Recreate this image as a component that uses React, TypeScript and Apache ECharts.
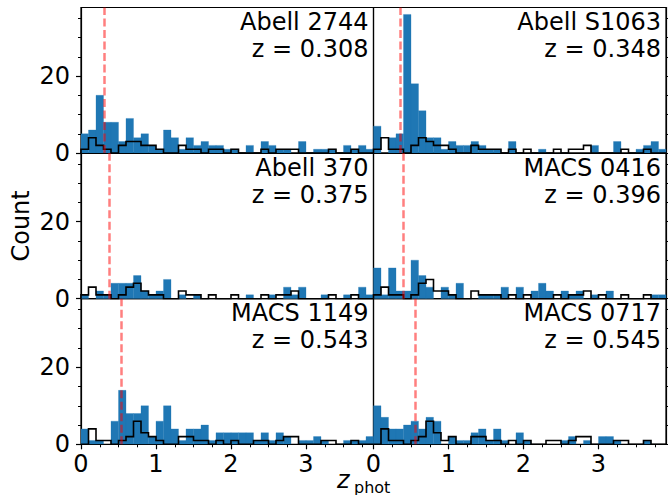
import React, { useEffect, useRef } from "react";
import * as echarts from "echarts";

// ---------- data ----------
const binWidth = 0.1;
const xMax = 3.9;
const yMax = 37.8;

const panelNames = ["Abell 2744", "Abell S1063", "Abell 370", "MACS 0416", "MACS 1149", "MACS 0717"];
const panelZ = [0.308, 0.348, 0.375, 0.396, 0.543, 0.545];

const blueA2744 = [5, 6, 15, 8, 8, 3, 9, 4, 5, 2, 1, 6, 4, 1, 4, 2, 3, 2, 2, 1, 1, 0, 2, 0, 3, 2, 1, 1, 0, 3, 0, 1, 1, 1, 0, 2, 1, 2, 1];
const stepA2744 = [1, 4, 2, 1, 0, 2, 3, 3, 2, 2, 1, 0, 0, 2, 1, 1, 0, 1, 1, 0, 1, 0, 0, 0, 1, 0, 1, 1, 1, 0, 0, 0, 0, 1, 0, 0, 1, 0, 0];

const blueS1063 = [7, 0, 4, 5, 36, 18, 11, 4, 4, 1, 3, 2, 2, 3, 2, 1, 1, 0, 3, 0, 0, 0, 1, 0, 0, 0, 0, 0, 0, 2, 0, 0, 3, 0, 0, 1, 2, 3, 1];
const stepS1063 = [1, 4, 1, 1, 0, 2, 4, 3, 2, 2, 1, 0, 0, 2, 1, 1, 1, 0, 1, 0, 1, 0, 0, 0, 1, 0, 1, 1, 2, 0, 0, 0, 0, 1, 0, 0, 1, 0, 0];

const blueA370 = [1, 0, 2, 1, 4, 4, 4, 6, 2, 1, 2, 5, 0, 1, 0, 1, 0, 0, 0, 0, 0, 0, 1, 0, 0, 1, 0, 3, 1, 3, 0, 0, 1, 0, 0, 1, 0, 3, 1];
const stepA370 = [1, 3, 1, 1, 0, 1, 3, 4, 2, 1, 1, 0, 0, 2, 1, 1, 0, 1, 0, 0, 1, 0, 0, 0, 1, 0, 1, 1, 2, 0, 0, 0, 0, 1, 0, 0, 1, 0, 0];

const blueM0416 = [8, 1, 8, 2, 2, 10, 6, 3, 0, 3, 1, 4, 0, 0, 1, 1, 1, 3, 0, 3, 0, 2, 4, 2, 0, 2, 1, 2, 0, 1, 0, 2, 0, 0, 0, 0, 0, 1, 1];
const stepM0416 = [1, 3, 1, 1, 0, 1, 4, 5, 2, 2, 1, 0, 0, 2, 1, 1, 1, 0, 1, 0, 1, 0, 0, 0, 1, 0, 1, 1, 2, 0, 1, 0, 0, 1, 0, 0, 1, 0, 0];

const blueM1149 = [4, 1, 1, 0, 6, 14, 8, 8, 10, 2, 6, 10, 4, 1, 4, 4, 5, 1, 3, 3, 3, 3, 3, 1, 3, 1, 3, 2, 0, 1, 1, 2, 1, 0, 0, 1, 1, 1, 2];
const stepM1149 = [0, 4, 1, 1, 0, 1, 2, 6, 3, 2, 1, 0, 0, 2, 2, 1, 1, 0, 1, 0, 1, 0, 0, 1, 1, 0, 1, 2, 2, 0, 0, 0, 1, 1, 0, 0, 1, 0, 0];

const blueM0717 = [10, 7, 4, 4, 5, 6, 4, 7, 6, 0, 2, 1, 1, 3, 4, 1, 4, 1, 0, 3, 1, 0, 0, 0, 0, 1, 2, 0, 1, 0, 2, 2, 1, 0, 0, 0, 1, 0, 0];
const stepM0717 = [0, 4, 1, 1, 0, 1, 2, 6, 3, 1, 2, 0, 0, 2, 2, 1, 1, 0, 1, 0, 1, 0, 0, 1, 1, 0, 1, 2, 2, 0, 0, 0, 1, 1, 0, 0, 1, 0, 0];

const blueHists = [blueA2744, blueS1063, blueA370, blueM0416, blueM1149, blueM0717];
const stepHists = [stepA2744, stepS1063, stepA370, stepM0416, stepM1149, stepM0717];

const xMajorTicks = [0, 1, 2, 3];
const xMinorTicks = [0.25, 0.5, 0.75, 1.25, 1.5, 1.75, 2.25, 2.5, 2.75, 3.25, 3.5, 3.75];
const yMajorTicks = [0, 20];
const yMinorTicks = [5, 10, 15, 25, 30, 35];

// ---------- layout ----------
const W = 668;
const H = 495;
const gridLeft = [81, 373.5];
const gridWidth = 292.5;
const gridTop = [7.5, 153.1, 298.7];
const gridHeight = 145.6;
const FONT = '"DejaVu Sans", "Liberation Sans", sans-serif';
const BLUE = "#1f77b4";

const edge = (k: number) => Math.round(k * binWidth * 1000) / 1000;

export default function App() {
  const ref = useRef<HTMLDivElement>(null);

  useEffect(() => {
    const chart = echarts.init(ref.current!, null, { renderer: "svg" });
    const grids: any[] = [];
    const xAxes: any[] = [];
    const yAxes: any[] = [];
    const series: any[] = [];
    const graphics: any[] = [];

    for (let i = 0; i < 6; i++) {
      const col = i % 2;
      const row = Math.floor(i / 2);
      const isBottom = row === 2;
      grids.push({
        left: gridLeft[col],
        top: gridTop[row],
        width: gridWidth,
        height: gridHeight,
        show: true,
        borderColor: "#000",
        borderWidth: 1.2,
        backgroundColor: "transparent",
      });

      const xa = xAxes.length;
      xAxes.push({
        type: "value",
        gridIndex: i,
        min: 0,
        max: xMax,
        position: "bottom",
        axisLine: { show: true, onZero: false, lineStyle: { color: "#000", width: 1.2 } },
        splitLine: { show: false },
        axisTick: { show: isBottom, customValues: xMajorTicks, length: 5, lineStyle: { color: "#000", width: 1.2 } },
        axisLabel: {
          show: isBottom,
          customValues: xMajorTicks,
          fontSize: 24,
          lineHeight: 20,
          fontFamily: FONT,
          color: "#000",
          margin: 10,
        },
      });
      if (isBottom) {
        xAxes.push({
          type: "value",
          gridIndex: i,
          min: 0,
          max: xMax,
          position: "bottom",
          axisLine: { show: false, onZero: false },
          splitLine: { show: false },
          axisTick: { show: true, customValues: xMinorTicks, length: 3, lineStyle: { color: "#000", width: 1 } },
          axisLabel: { show: false },
        });
      }

      const ya = yAxes.length;
      yAxes.push({
        type: "value",
        gridIndex: i,
        min: 0,
        max: yMax,
        position: col === 0 ? "left" : "right",
        axisLine: { show: true, onZero: false, lineStyle: { color: "#000", width: 1.2 } },
        splitLine: { show: false },
        axisTick: { show: true, customValues: yMajorTicks, length: 5, lineStyle: { color: "#000", width: 1.2 } },
        axisLabel: {
          show: col === 0,
          customValues: yMajorTicks,
          fontSize: 24,
          fontFamily: FONT,
          color: "#000",
          margin: 11,
        },
      });
      yAxes.push({
        type: "value",
        gridIndex: i,
        min: 0,
        max: yMax,
        position: col === 0 ? "left" : "right",
        axisLine: { show: false, onZero: false },
        splitLine: { show: false },
        axisTick: { show: true, customValues: yMinorTicks, length: 3, lineStyle: { color: "#000", width: 1 } },
        axisLabel: { show: false },
      });

      const blue = blueHists[i];
      series.push({
        type: "custom",
        xAxisIndex: xa,
        yAxisIndex: ya,
        clip: true,
        silent: true,
        z: 2,
        data: blue.map((c, k) => [edge(k), edge(k + 1), c]),
        encode: { x: [0, 1], y: 2 },
        renderItem: (params: any, api: any) => {
          const c = api.value(2);
          if (!c) return null;
          const p0 = api.coord([api.value(0), c]);
          const p1 = api.coord([api.value(1), 0]);
          return {
            type: "rect",
            shape: { x: p0[0], y: p0[1], width: p1[0] - p0[0], height: p1[1] - p0[1] },
            style: { fill: BLUE, stroke: BLUE, lineWidth: 0.3 },
          };
        },
      });

      const st = stepHists[i];
      const pts: number[][] = [[0, 0]];
      st.forEach((c, k) => {
        pts.push([edge(k), c]);
        pts.push([edge(k + 1), c]);
      });
      pts.push([edge(st.length), 0]);
      series.push({
        type: "line",
        xAxisIndex: xa,
        yAxisIndex: ya,
        data: pts,
        symbol: "none",
        silent: true,
        z: 3,
        lineStyle: { color: "#000", width: 1.6, join: "miter" },
        markLine: {
          silent: true,
          symbol: ["none", "none"],
          label: { show: false },
          emphasis: { disabled: true },
          lineStyle: { color: "rgba(255,0,0,0.5)", width: 2.5, type: [8, 3.5] },
          data: [{ xAxis: panelZ[i] }],
        },
      });

      graphics.push({
        type: "text",
        x: gridLeft[col] + gridWidth - 5,
        y: gridTop[row] + 1,
        z: 10,
        style: {
          text: panelNames[i] + "\nz = " + panelZ[i].toFixed(3),
          fontSize: 24,
          fontFamily: FONT,
          fill: "#000",
          textAlign: "right",
          textVerticalAlign: "top",
          lineHeight: 27,
        },
      });
    }

    graphics.push({
      type: "text",
      x: 21,
      y: gridTop[0] + (gridTop[2] + gridHeight - gridTop[0]) / 2,
      rotation: Math.PI / 2,
      style: { text: "Count", fontSize: 24, fontFamily: FONT, fill: "#000", textAlign: "center", textVerticalAlign: "middle" },
    });
    graphics.push({
      type: "text",
      x: 337,
      y: 480,
      style: { text: "z", fontSize: 24, lineHeight: 18, fontStyle: "italic", fontFamily: FONT, fill: "#000", textAlign: "left", textVerticalAlign: "middle" },
    });
    graphics.push({
      type: "text",
      x: 354,
      y: 487,
      style: { text: "phot", fontSize: 16, lineHeight: 14, fontFamily: FONT, fill: "#000", textAlign: "left", textVerticalAlign: "middle" },
    });

    chart.setOption({
      animation: false,
      backgroundColor: "#fff",
      grid: grids,
      xAxis: xAxes,
      yAxis: yAxes,
      series,
      graphic: graphics,
    });
    return () => chart.dispose();
  }, []);

  return <div ref={ref} style={{ position: "absolute", left: 0, top: 0, width: W, height: H }} />;
}
